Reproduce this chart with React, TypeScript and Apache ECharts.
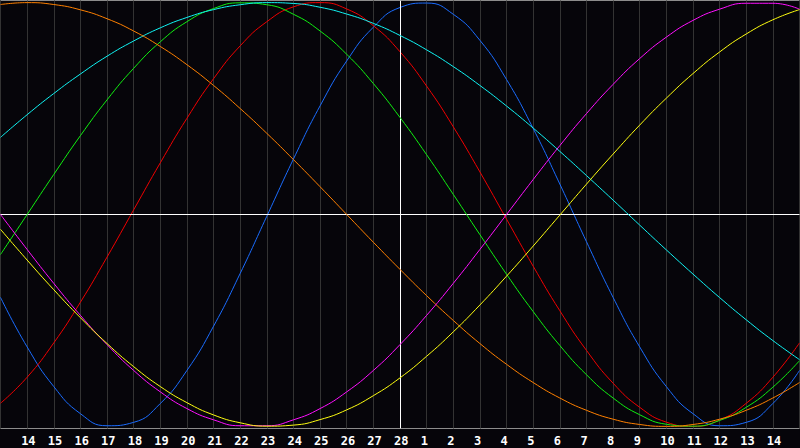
import React, { useEffect, useRef } from "react";
import * as echarts from "echarts";

// Day labels along the bottom (Feb 13 .. Mar 15)
const DAYS = [
  "13", "14", "15", "16", "17", "18", "19", "20", "21", "22", "23", "24", "25", "26", "27", "28",
  "1", "2", "3", "4", "5", "6", "7", "8", "9", "10", "11", "12", "13", "14", "15",
];

// Curve values per day (percent, -100..100)
const BLUE = [-39.1, -62.5, -81.2, -94.0, -99.7, -98.1, -89.2, -73.6, -52.7, -27.8, -0.8, 26.2, 51.3, 72.5, 88.4, 97.7, 99.8, 94.5, 82.2, 63.7, 40.6, 14.4, -12.8, -39.1, -62.5, -81.2, -94.0, -99.7, -98.1, -89.2, -73.6];
const RED = [-89.1, -76.8, -60.6, -41.4, -20.1, 2.2, 24.4, 45.4, 64.1, 79.6, 91.0, 98.0, 100, 97.0, 89.1, 76.8, 60.6, 41.4, 20.1, -2.2, -24.4, -45.4, -64.1, -79.6, -91.0, -98.0, -100, -97.0, -89.1, -76.8, -60.6];
const GREEN = [-18.9, 0, 18.9, 37.2, 54.1, 69.0, 81.5, 91.0, 97.2, 99.9, 99.0, 94.5, 86.6, 75.6, 61.8, 45.8, 28.2, 9.5, -9.5, -28.2, -45.8, -61.8, -75.6, -86.6, -94.5, -99.0, -99.9, -97.2, -91.0, -81.5, -69.0];
const MAGENTA = [0, -16.5, -32.5, -47.6, -61.4, -73.6, -83.7, -91.6, -96.9, -99.7, -99.7, -96.9, -91.6, -83.7, -73.6, -61.4, -47.6, -32.5, -16.5, 0, 16.5, 32.5, 47.6, 61.4, 73.6, 83.7, 91.6, 96.9, 99.7, 99.7, 96.9];
const YELLOW = [-7.0, -21.5, -35.5, -48.7, -60.9, -71.8, -81.2, -88.8, -94.6, -98.3, -99.9, -99.4, -96.8, -92.2, -85.5, -77.1, -66.9, -55.4, -42.7, -29.1, -14.9, -0.3, 14.3, 28.5, 42.2, 54.9, 66.5, 76.7, 85.2, 91.9, 96.7];
const ORANGE = [99.1, 100, 99.1, 96.6, 92.4, 86.6, 79.3, 70.7, 60.9, 50.0, 38.3, 25.9, 13.1, 0, -13.1, -25.9, -38.3, -50.0, -60.9, -70.7, -79.3, -86.6, -92.4, -96.6, -99.1, -100, -99.1, -96.6, -92.4, -86.6, -79.3];
const CYAN = [36.4, 47.1, 57.1, 66.3, 74.7, 81.9, 88.1, 93.0, 96.7, 99.0, 100, 99.6, 97.8, 94.6, 90.2, 84.5, 77.7, 69.8, 60.9, 51.2, 40.8, 29.8, 18.4, 6.8, -5.0, -16.7, -28.1, -39.2, -49.7, -59.5, -68.5];

const TODAY_INDEX = 15;
const LABEL_INDICES = DAYS.map((_, i) => i).filter((i) => i > 0 && i < DAYS.length - 1);

const CURVES: { name: string; data: number[]; color: string }[] = [
  { name: "blue", data: BLUE, color: "#1a6cff" },
  { name: "red", data: RED, color: "#f00000" },
  { name: "green", data: GREEN, color: "#10f010" },
  { name: "cyan", data: CYAN, color: "#10f4f4" },
  { name: "orange", data: ORANGE, color: "#ff8000" },
  { name: "magenta", data: MAGENTA, color: "#ff10ff" },
  { name: "yellow", data: YELLOW, color: "#ffff10" },
];

export default function App() {
  const ref = useRef<HTMLDivElement>(null);

  useEffect(() => {
    if (!ref.current) return;
    const chart = echarts.init(ref.current, undefined, { renderer: "svg" });
    const series: any[] = CURVES.map((c, i) => ({
      name: c.name,
      type: "line",
      xAxisIndex: 0,
      yAxisIndex: 0,
      data: c.data,
      smooth: true,
      showSymbol: false,
      symbol: "none",
      lineStyle: { color: c.color, width: 1 },
      itemStyle: { color: c.color },
      z: 3 + i,
      markLine:
        i === 0
          ? {
              silent: true,
              symbol: "none",
              label: { show: false },
              lineStyle: { color: "#ffffff", width: 1, type: "solid" },
              data: [{ xAxis: TODAY_INDEX }, { yAxis: 0 }],
            }
          : undefined,
    }));

    // label axis is shifted 6px to the left of the grid lines (labels start just before each line)
    const pxPerDay = 800 / (DAYS.length - 1);
    const shift = 6 / pxPerDay;

    chart.setOption({
      animation: false,
      backgroundColor: "#06050a",
      grid: [
        {
          left: 0.5,
          right: 0.5,
          top: 0.5,
          bottom: 19.5,
          show: true,
          borderColor: "#8c8c8c",
          borderWidth: 1,
          backgroundColor: "transparent",
        },
      ],
      xAxis: [
        {
          type: "category",
          boundaryGap: false,
          data: DAYS,
          axisLine: { show: false },
          axisTick: { show: false },
          axisLabel: { show: false },
          splitLine: { show: true, interval: 0, lineStyle: { color: "#333333", width: 1 } },
        },
        {
          type: "value",
          position: "bottom",
          min: shift,
          max: DAYS.length - 1 + shift,
          axisLine: { show: false },
          axisTick: { show: false },
          splitLine: { show: false },
          axisLabel: {
            show: true,
            customValues: LABEL_INDICES,
            showMinLabel: true,
            showMaxLabel: true,
            align: "left",
            margin: 6,
            color: "#ffffff",
            fontWeight: "bold",
            fontSize: 12,
            fontFamily: "DejaVu Sans Mono",
            formatter: (v: number) => DAYS[Math.round(v)] ?? "",
          },
        },
      ],
      yAxis: [
        {
          type: "value",
          min: -101,
          max: 101,
          show: false,
          splitLine: { show: false },
        },
      ],
      series,
    });
    return () => chart.dispose();
  }, []);

  return (
    <div
      ref={ref}
      style={{ position: "fixed", left: 0, top: 0, width: 800, height: 448, background: "#06050a" }}
    />
  );
}
